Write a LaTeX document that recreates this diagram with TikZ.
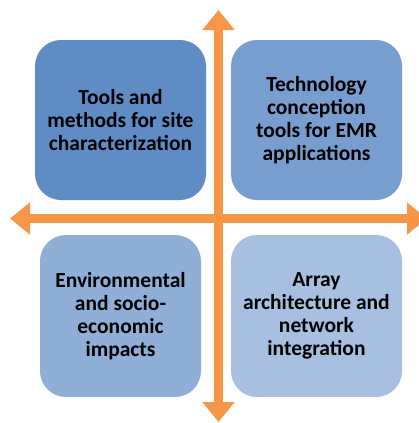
\documentclass[tikz,border=0pt]{standalone}
\usepackage{fontspec}
\setmainfont{Carlito}
\usetikzlibrary{arrows.meta}

\definecolor{quadA}{HTML}{5F8CC5}
\definecolor{quadB}{HTML}{789ECF}
\definecolor{quadC}{HTML}{8FAFD7}
\definecolor{quadD}{HTML}{A8C0E0}
\definecolor{axisorange}{HTML}{F79646}

\begin{document}
\begin{tikzpicture}[x=1pt,y=-1pt]
		\tikzstyle{quad}=[draw=none, rounded corners=26pt, align=center, font=\fontsize{21.5}{22.8}\selectfont\bfseries, inner sep=0pt]
		\tikzstyle{axis}=[draw=axisorange, line width=8.5pt, {Triangle[length=20pt,width=31pt]}-{Triangle[length=20pt,width=31pt]}]
		
		\useasboundingbox (0,0) rectangle (419,423);
		\clip (0,0) rectangle (419,423);
		\fill[white] (0,0) rectangle (419,423);
		
		\node[quad, fill=quadA, minimum width=171pt, minimum height=160pt] (tools) at (120.5,120) {Tools and\\methods for site\\characterization};
		\node[quad, fill=quadB, minimum width=171pt, minimum height=160pt] (techno) at (316.5,120) {Technology\\conception\\tools for EMR\\applications};
		\node[quad, fill=quadC, minimum width=161pt, minimum height=162pt] (enviro) at (120.5,316) {Environmental\\and socio-\\economic\\impacts};
		\node[quad, fill=quadD, minimum width=171pt, minimum height=162pt] (array) at (316.5,316) {Array\\architecture and\\network\\integration};
		
		\coordinate (up) at (218.5,10);
		\coordinate (down) at (218.5,422);
		\coordinate (left) at (10,218.5);
		\coordinate (right) at (427,218.5);
		
		\draw[axis] (down) -- (up);
		\draw[axis] (left) -- (right);
	\end{tikzpicture}
\end{document}
